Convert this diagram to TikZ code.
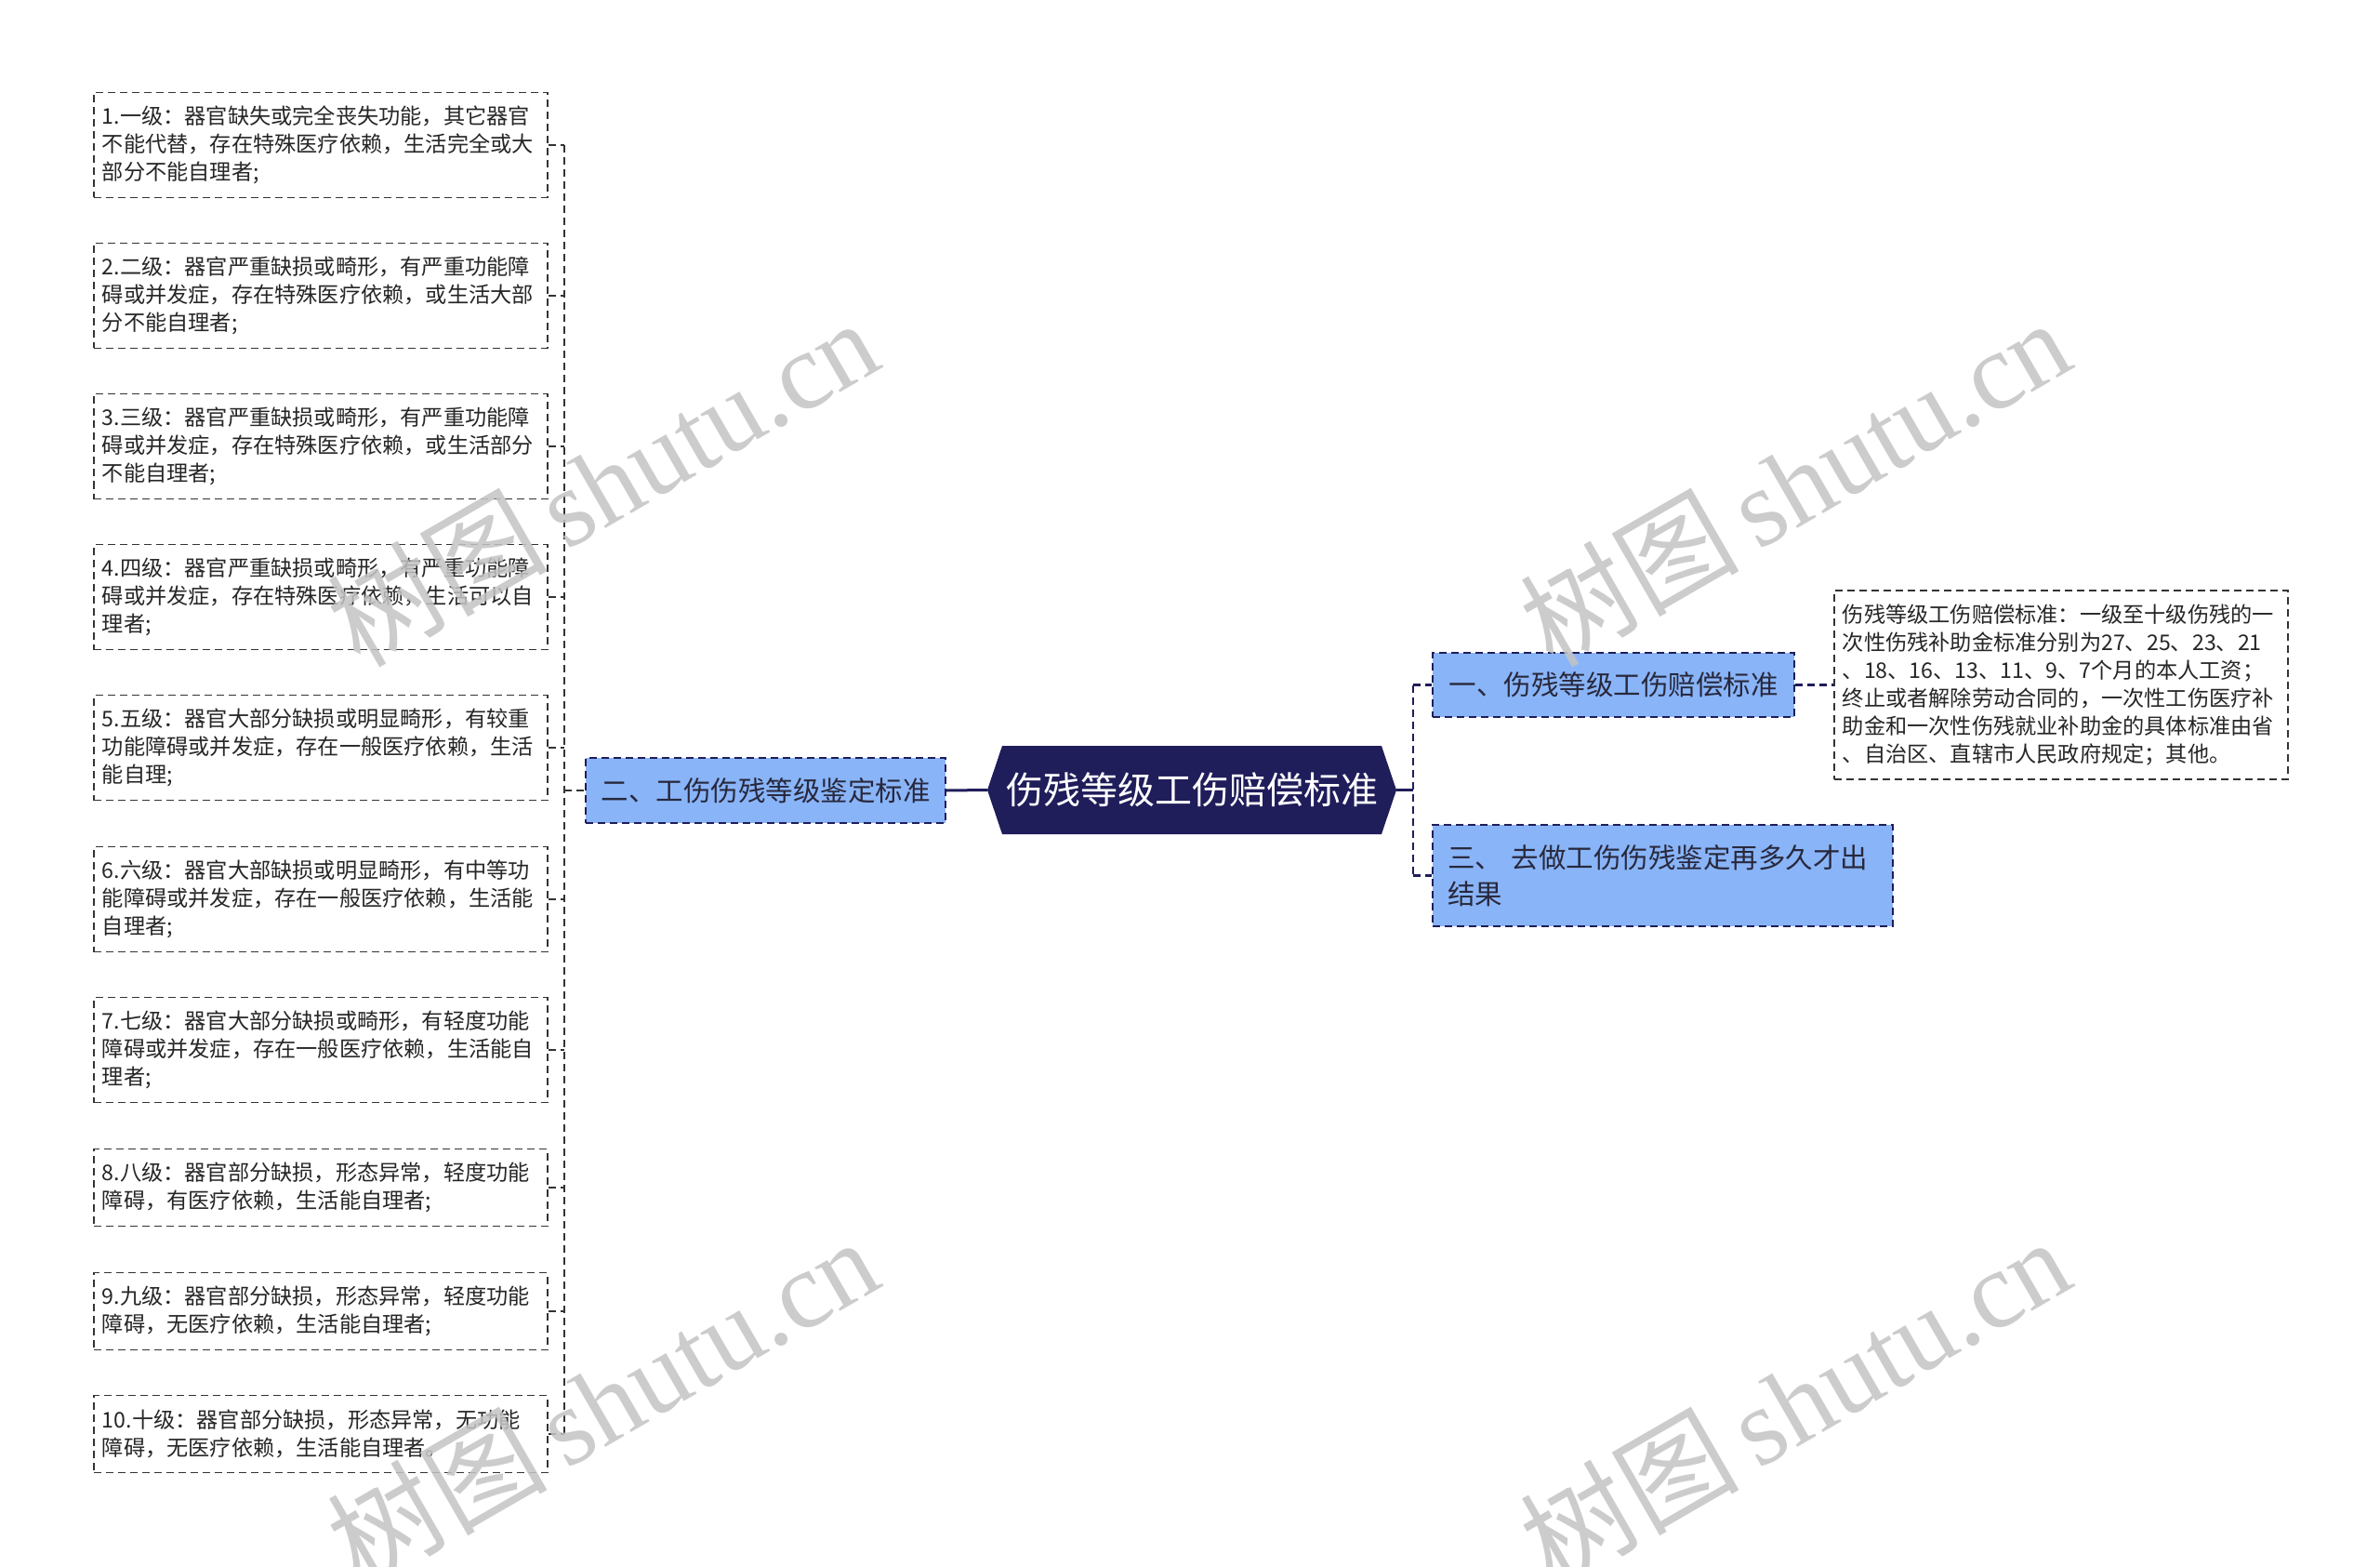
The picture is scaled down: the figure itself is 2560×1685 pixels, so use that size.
\documentclass[tikz,border=0pt]{standalone}
\usepackage{fontspec}
\setmainfont{Noto Sans CJK SC}
\newfontfamily\wmlatin{Liberation Serif}
\newfontfamily\wmcjk{Noto Sans CJK SC}
\usetikzlibrary{backgrounds}
\definecolor{navy}{RGB}{31,29,90}
\definecolor{nodeblue}{RGB}{137,180,248}
\definecolor{leafline}{RGB}{51,51,51}
\definecolor{bluetext}{RGB}{40,40,60}
\definecolor{wmgray}{RGB}{196,196,196}
\tikzset{
  leafbox/.style={draw=leafline, line width=1.6pt, dash pattern=on 8pt off 5pt, fill=white,
    anchor=west, text width=470pt, inner xsep=9pt, inner ysep=0pt, align=left,
    font=\fontsize{23.2}{30}\selectfont, text=black!85},
  tall/.style={minimum height=113pt},
  short/.style={minimum height=83pt},
  bluenode/.style={draw=navy, line width=2pt, dash pattern=on 8pt off 5pt, fill=nodeblue,
    inner xsep=16pt, inner ysep=0pt, font=\fontsize{29.5}{39}\selectfont, text=bluetext},
  rootnode/.style={minimum width=440pt, minimum height=95pt, outer sep=0pt, inner sep=0pt,
    text=white, font=\fontsize{40}{44}\selectfont},
  leafconn/.style={draw=leafline, line width=1.6pt, dash pattern=on 8pt off 5pt},
  trunkconn/.style={draw=navy, line width=2.2pt, dash pattern=on 8pt off 5pt},
  rootconn/.style={draw=navy, line width=3pt},
  wm/.style={text=wmgray, opacity=0.85, rotate=30, inner sep=0pt, font=\fontsize{118}{120}\selectfont}
}
\begin{document}
\begin{tikzpicture}[x=1pt, y=-1pt]
\useasboundingbox (0,0) rectangle (2560,1685);

% left leaves
\node[leafbox, tall] (l1) at (100,156) {1.一级：器官缺失或完全丧失功能，其它器官\\不能代替，存在特殊医疗依赖，生活完全或大\\部分不能自理者;};
\node[leafbox, tall] (l2) at (100,318) {2.二级：器官严重缺损或畸形，有严重功能障\\碍或并发症，存在特殊医疗依赖，或生活大部\\分不能自理者;};
\node[leafbox, tall] (l3) at (100,480) {3.三级：器官严重缺损或畸形，有严重功能障\\碍或并发症，存在特殊医疗依赖，或生活部分\\不能自理者;};
\node[leafbox, tall] (l4) at (100,642) {4.四级：器官严重缺损或畸形，有严重功能障\\碍或并发症，存在特殊医疗依赖，生活可以自\\理者;};
\node[leafbox, tall] (l5) at (100,804) {5.五级：器官大部分缺损或明显畸形，有较重\\功能障碍或并发症，存在一般医疗依赖，生活\\能自理;};
\node[leafbox, tall] (l6) at (100,967) {6.六级：器官大部缺损或明显畸形，有中等功\\能障碍或并发症，存在一般医疗依赖，生活能\\自理者;};
\node[leafbox, tall] (l7) at (100,1129) {7.七级：器官大部分缺损或畸形，有轻度功能\\障碍或并发症，存在一般医疗依赖，生活能自\\理者;};
\node[leafbox, short] (l8) at (100,1277) {8.八级：器官部分缺损，形态异常，轻度功能\\障碍，有医疗依赖，生活能自理者;};
\node[leafbox, short] (l9) at (100,1410) {9.九级：器官部分缺损，形态异常，轻度功能\\障碍，无医疗依赖，生活能自理者;};
\node[leafbox, short] (l10) at (100,1542) {10.十级：器官部分缺损，形态异常，无功能\\障碍，无医疗依赖，生活能自理者。};

% branch nodes
\node[bluenode, minimum width=387pt, minimum height=70pt] (n2) at (823.5,850) {二、工伤伤残等级鉴定标准};
\node[rootnode] (root) at (1282,849.5) {伤残等级工伤赔偿标准};
\node[bluenode, minimum width=389pt, minimum height=69pt] (n1) at (1735.5,736.5) {一、伤残等级工伤赔偿标准};
\node[bluenode, text width=463pt, align=left, minimum height=109pt] (n3) at (1788.5,941.5) {三、 去做工伤伤残鉴定再多久才出\\结果};
\node[leafbox] (d1) at (1972,736.5) [minimum height=203pt] {伤残等级工伤赔偿标准：一级至十级伤残的一\\次性伤残补助金标准分别为27、25、23、21\\、18、16、13、11、9、7个月的本人工资；\\终止或者解除劳动合同的，一次性工伤医疗补\\助金和一次性伤残就业补助金的具体标准由省\\、自治区、直辖市人民政府规定；其他。};

\begin{scope}[on background layer]
  \fill[white] (0,0) rectangle (2560,1685);
  \fill[navy] (root.west) -- ([xshift=16pt]root.north west) -- ([xshift=-16pt]root.north east)
     -- (root.east) -- ([xshift=-16pt]root.south east) -- ([xshift=16pt]root.south west) -- cycle;
\end{scope}

% connectors
\coordinate (lt) at (607,850);
\coordinate (rt) at (1520,850);
\foreach \n in {l1,l2,l3,l4,l5,l6,l7,l8,l9,l10}{
  \draw[leafconn] (\n.east) -- (\n.east -| lt);
}
\draw[leafconn] (l1.east -| lt) -- (l10.east -| lt);
\draw[leafconn] (n2.west -| lt) -- (n2.west);
\draw[rootconn] (n2.east) -- (root.west);
\draw[rootconn] (root.east) -- (root.east -| rt);
\draw[trunkconn] (n1.west -| rt) -- (n3.west -| rt);
\draw[trunkconn] (n1.west -| rt) -- (n1.west);
\draw[trunkconn] (n3.west -| rt) -- (n3.west);
\draw[trunkconn] (n1.east) -- (d1.west);

% watermarks
\node[wm] (wm1) at (648,518) {\wmcjk 树图\,\wmlatin shutu.cn};
\node[wm] (wm2) at (648,1506) {\wmcjk 树图\,\wmlatin shutu.cn};
\node[wm] (wm3) at (1930,518) {\wmcjk 树图\,\wmlatin shutu.cn};
\node[wm] (wm4) at (1930,1506) {\wmcjk 树图\,\wmlatin shutu.cn};
\end{tikzpicture}
\end{document}
